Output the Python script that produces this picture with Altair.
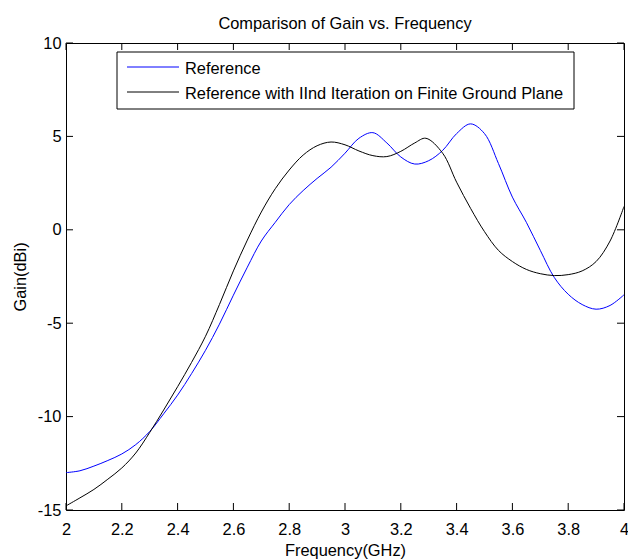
import altair as alt
import pandas as pd

# ---- data ----
freq_ref = [2.00, 2.05, 2.10, 2.15, 2.20, 2.25, 2.30, 2.35, 2.40, 2.45, 2.50, 2.55,
            2.60, 2.65, 2.70, 2.75, 2.80, 2.85, 2.90, 2.95, 3.00, 3.05, 3.10, 3.15,
            3.20, 3.25, 3.30, 3.35, 3.40, 3.45, 3.50, 3.55, 3.60, 3.65, 3.70, 3.75,
            3.80, 3.85, 3.90, 3.95, 4.00]
gain_ref = [-13.0, -12.9, -12.65, -12.35, -12.0, -11.5, -10.8, -9.85, -8.85, -7.7, -6.45, -5.05,
            -3.5, -2.0, -0.6, 0.4, 1.35, 2.1, 2.75, 3.35, 4.1, 4.9, 5.2, 4.65,
            3.9, 3.52, 3.7, 4.25, 5.15, 5.67, 5.15, 3.55, 1.75, 0.4, -1.1, -2.55,
            -3.45, -4.0, -4.25, -4.05, -3.48]

freq_iter = [2.00, 2.05, 2.10, 2.15, 2.20, 2.25, 2.30, 2.35, 2.40, 2.45, 2.50, 2.55,
             2.60, 2.65, 2.70, 2.75, 2.80, 2.85, 2.90, 2.95, 3.00, 3.05, 3.10, 3.15,
             3.20, 3.25, 3.29, 3.35, 3.40, 3.45, 3.50, 3.55, 3.60, 3.65, 3.70, 3.75,
             3.80, 3.85, 3.90, 3.95, 4.00]
gain_iter = [-14.78, -14.35, -13.9, -13.35, -12.75, -11.95, -10.85, -9.65, -8.4, -7.1, -5.7, -4.0,
             -2.2, -0.55, 0.95, 2.2, 3.2, 4.0, 4.5, 4.7, 4.55, 4.22, 3.97, 3.92,
             4.2, 4.65, 4.9, 4.1, 2.55, 1.15, -0.1, -1.1, -1.7, -2.12, -2.35, -2.45,
             -2.4, -2.2, -1.7, -0.6, 1.25]

series_names = ["Reference", "Reference with IInd Iteration on Finite Ground Plane"]
series_colors = ["#0000ff", "#000000"]

x_ticks = [2.0, 2.2, 2.4, 2.6, 2.8, 3.0, 3.2, 3.4, 3.6, 3.8, 4.0]
y_ticks = [-15, -10, -5, 0, 5, 10]

title_text = "Comparison of Gain vs. Frequency"
x_title = "Frequency(GHz)"
y_title = "Gain(dBi)"

# ---- build tables ----
df = pd.concat([
    pd.DataFrame({"freq": freq_ref, "gain": gain_ref, "series": series_names[0]}),
    pd.DataFrame({"freq": freq_iter, "gain": gain_iter, "series": series_names[1]}),
], ignore_index=True)
xt = pd.DataFrame({"freq": x_ticks})
yt = pd.DataFrame({"gain": y_ticks})

FONT = "Liberation Sans"
FS = 16.4
W, H = 558, 467
TICK = 7

xscale = alt.Scale(domain=[2, 4], nice=False, zero=False)
yscale = alt.Scale(domain=[-15, 10], nice=False, zero=False)

common_axis = dict(format="~g", ticks=False, tickSize=0, domain=False, grid=False,
                   labelFlush=False, labelOverlap=False,
                   labelExpr="replace(datum.label, '\u2212', '-')",
                   labelFont=FONT, labelFontSize=FS, labelColor="black",
                   titleFont=FONT, titleFontSize=FS, titleFontWeight="normal",
                   titleColor="black")
x_axis = alt.Axis(values=x_ticks, title=x_title, labelPadding=11, titlePadding=5,
                  **common_axis)
y_axis = alt.Axis(values=y_ticks, title=y_title, labelPadding=5, titlePadding=9,
                  **common_axis)

X = alt.X("freq:Q", scale=xscale, axis=x_axis, title=x_title)
Y = alt.Y("gain:Q", scale=yscale, axis=y_axis, title=y_title)

lines = alt.Chart(df).mark_line(strokeWidth=1, interpolate="catmull-rom").encode(
    x=X, y=Y,
    color=alt.Color("series:N", scale=alt.Scale(domain=series_names, range=series_colors),
                    legend=None),
)

tick_style = dict(color="black", strokeWidth=1)
xt_bottom = alt.Chart(xt).mark_rule(**tick_style).encode(
    x=X, y=alt.value(H), y2=alt.value(H - TICK))
xt_top = alt.Chart(xt).mark_rule(**tick_style).encode(
    x=X, y=alt.value(0), y2=alt.value(TICK))
yt_left = alt.Chart(yt).mark_rule(**tick_style).encode(
    y=Y, x=alt.value(0), x2=alt.value(TICK))
yt_right = alt.Chart(yt).mark_rule(**tick_style).encode(
    y=Y, x=alt.value(W), x2=alt.value(W - TICK))

# ---- legend box (inside plot, top-left) ----
leg_box = alt.Chart(pd.DataFrame({"series": [series_names[0]]})).mark_rect(
    fill="white", stroke="black", strokeWidth=1).encode(
    x=alt.value(51), x2=alt.value(508), y=alt.value(9), y2=alt.value(66))

leg_layers = []
for i, (name, col) in enumerate(zip(series_names, series_colors)):
    src = pd.DataFrame({"series": [name]})
    leg_layers.append(alt.Chart(src).mark_rule(color=col, strokeWidth=1).encode(
        x=alt.value(61), x2=alt.value(113), y=alt.value(24 + 25 * i)))
    leg_layers.append(alt.Chart(src).mark_text(
        align="left", baseline="alphabetic", font=FONT, fontSize=FS, color="black").encode(
        text="series:N", x=alt.value(119), y=alt.value(31 + 25 * i)))

chart = alt.layer(lines, xt_bottom, xt_top, yt_left, yt_right, leg_box, *leg_layers).properties(
    width=W, height=H,
    background="white",
    title=alt.TitleParams(text=title_text, font=FONT, fontSize=FS, fontWeight="normal",
                          color="black", anchor="middle", baseline="alphabetic",
                          frame="group", offset=-10),
    autosize=alt.AutoSizeParams(type="none"),
    padding={"left": 66, "top": 43, "right": 4, "bottom": 50},
).configure_view(stroke="black", strokeWidth=1)

chart.save("out.html", embed_options={"renderer": "svg", "actions": False})
